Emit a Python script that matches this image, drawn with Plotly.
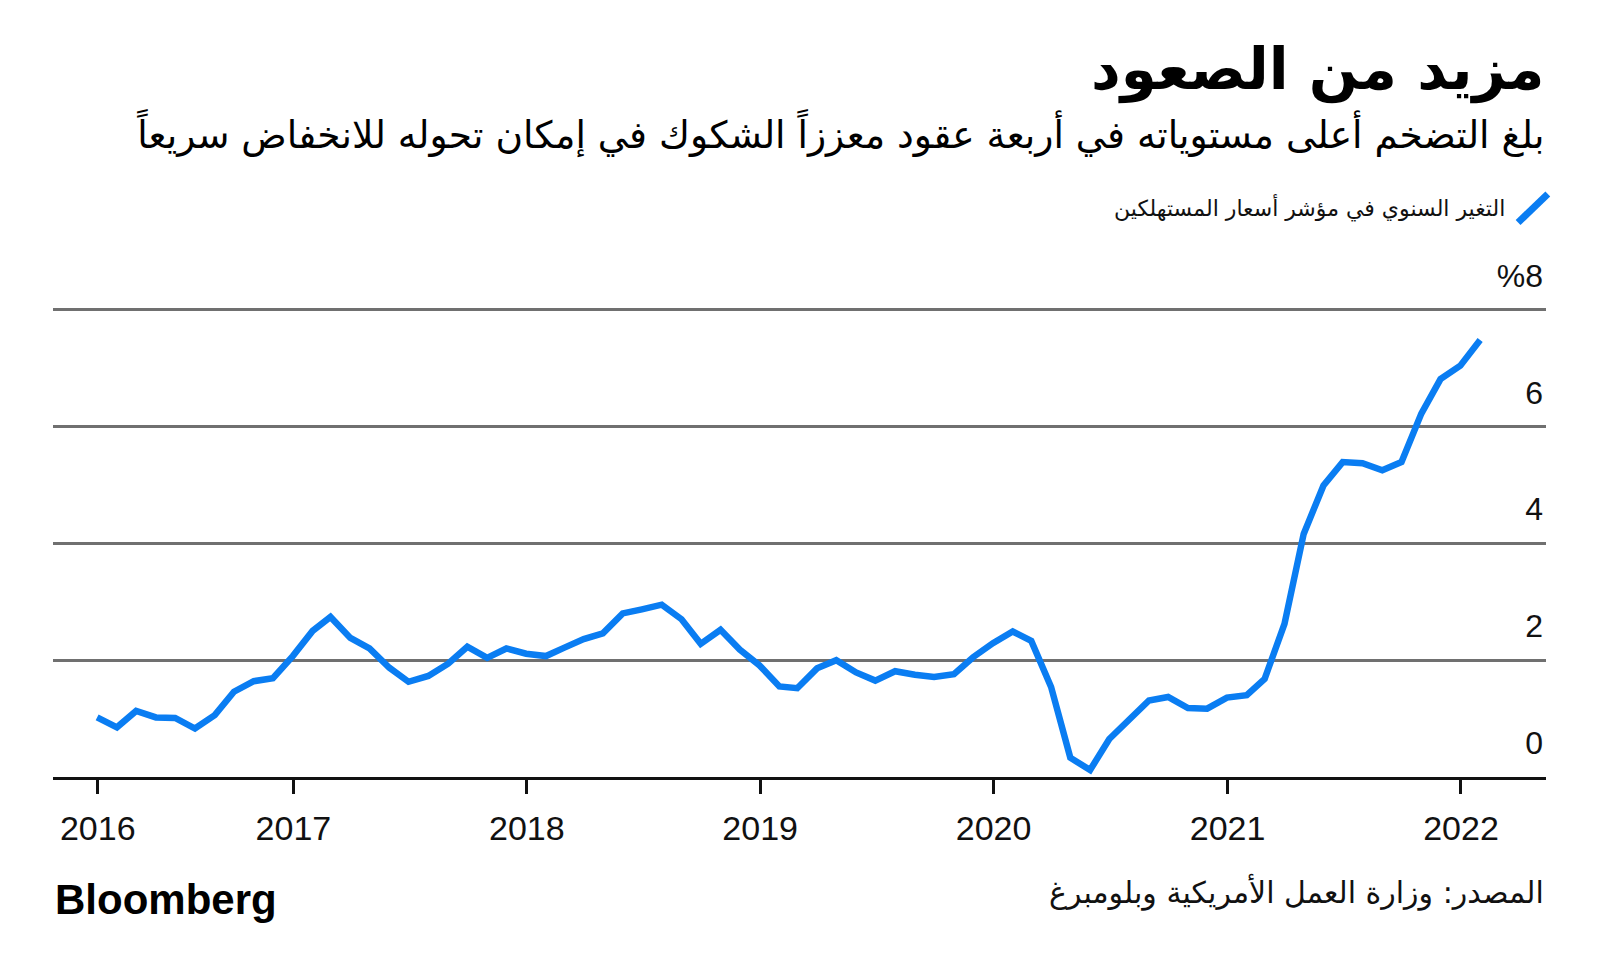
import pandas as pd
import plotly.graph_objects as go

# Monthly US CPI, year-over-year % change, Feb 2016 - Jan 2022
start_month = "2016-02-01"
cpi_yoy = [
    1.02, 0.85, 1.13, 1.02, 1.01, 0.83, 1.06, 1.46, 1.64, 1.69, 2.07,
    2.50, 2.74, 2.38, 2.20, 1.87, 1.63, 1.73, 1.94, 2.23, 2.04, 2.20, 2.11,
    2.07, 2.21, 2.36, 2.46, 2.80, 2.87, 2.95, 2.70, 2.28, 2.52, 2.18, 1.91,
    1.55, 1.52, 1.86, 2.00, 1.79, 1.65, 1.81, 1.75, 1.71, 1.76, 2.05, 2.29,
    2.49, 2.33, 1.54, 0.33, 0.12, 0.65, 0.99, 1.31, 1.37, 1.18, 1.17, 1.36,
    1.40, 1.68, 2.62, 4.16, 4.99, 5.39, 5.37, 5.25, 5.39, 6.22, 6.81, 7.04,
    7.48,
]
# points are plotted at month end
dates = pd.date_range(start_month, periods=len(cpi_yoy), freq="MS") + pd.offsets.MonthEnd(0)

x_tick_vals = ["2016-03-01", "2017-01-01", "2018-01-01", "2019-01-01",
               "2020-01-01", "2021-01-01", "2022-01-01"]
x_tick_text = ["2016", "2017", "2018", "2019", "2020", "2021", "2022"]
y_tick_vals = [0, 2, 4, 6, 8]
y_tick_text = ["0", "2", "4", "6", "%8"]

title = "مزيد من الصعود"
subtitle = "بلغ التضخم أعلى مستوياته في أربعة عقود معززاً الشكوك في إمكان تحوله للانخفاض سريعاً"
legend_label = "التغير السنوي في مؤشر أسعار المستهلكين"
source = "المصدر: وزارة العمل الأمريكية وبلومبرغ"

BLUE = "#0a7df2"
AR_FONT = "DejaVu Sans"
LAT_FONT = "Liberation Sans"

fig = go.Figure()
fig.add_trace(go.Scatter(
    x=dates, y=cpi_yoy, mode="lines",
    line=dict(color=BLUE, width=6.5),
    name=legend_label, showlegend=False, hoverinfo="x+y",
))

fig.update_layout(
    width=1600, height=979,
    margin=dict(l=53, r=54, t=257, b=201.5),
    paper_bgcolor="white", plot_bgcolor="white",
    xaxis=dict(
        type="date", range=["2015-12-22", "2022-05-14"],
        tickvals=x_tick_vals, ticktext=x_tick_text,
        ticks="outside", ticklen=14, tickwidth=3, tickcolor="#111",
        showline=True, linecolor="#111", linewidth=3,
        showgrid=False, zeroline=False,
        tickfont=dict(family=LAT_FONT, size=34, color="#111"),
        ticklabelstandoff=5,
    ),
    yaxis=dict(
        range=[0, 8.9], tickvals=y_tick_vals, ticktext=y_tick_text,
        side="right", ticks="", ticklabelposition="inside",
        ticklabelshift=-34,
        showgrid=True, gridcolor="#707070", gridwidth=3,
        zeroline=False, showline=False,
        tickfont=dict(family=LAT_FONT, size=32, color="#111"),
    ),
    showlegend=False,
)

fig.add_annotation(xref="paper", yref="paper", x=1, y=1.3612, xanchor="right", yanchor="middle",
                   text=f"<b>{title}</b>", showarrow=False,
                   font=dict(family=AR_FONT, size=58, color="#000"))
fig.add_annotation(xref="paper", yref="paper", x=1, y=1.2382, xanchor="right", yanchor="middle",
                   text=subtitle, showarrow=False,
                   font=dict(family=AR_FONT, size=37.6, color="#000"))
fig.add_annotation(xref="paper", yref="paper", x=0.9739, y=1.0941, xanchor="right", yanchor="middle",
                   text=legend_label, showarrow=False,
                   font=dict(family=AR_FONT, size=22, color="#111"))
fig.add_shape(type="line", xref="paper", yref="paper", x0=0.9813, y0=1.0663, x1=1.0012, y1=1.1211,
              line=dict(color=BLUE, width=7))
fig.add_annotation(xref="paper", yref="paper", x=0, y=-0.2354, xanchor="left", yanchor="middle",
                   text="<b>Bloomberg</b>", showarrow=False,
                   font=dict(family=LAT_FONT, size=42, color="#000"))
fig.add_annotation(xref="paper", yref="paper", x=1, y=-0.2219, xanchor="right", yanchor="middle",
                   text=source, showarrow=False,
                   font=dict(family=AR_FONT, size=30, color="#111"))

fig.write_html("out.html")
